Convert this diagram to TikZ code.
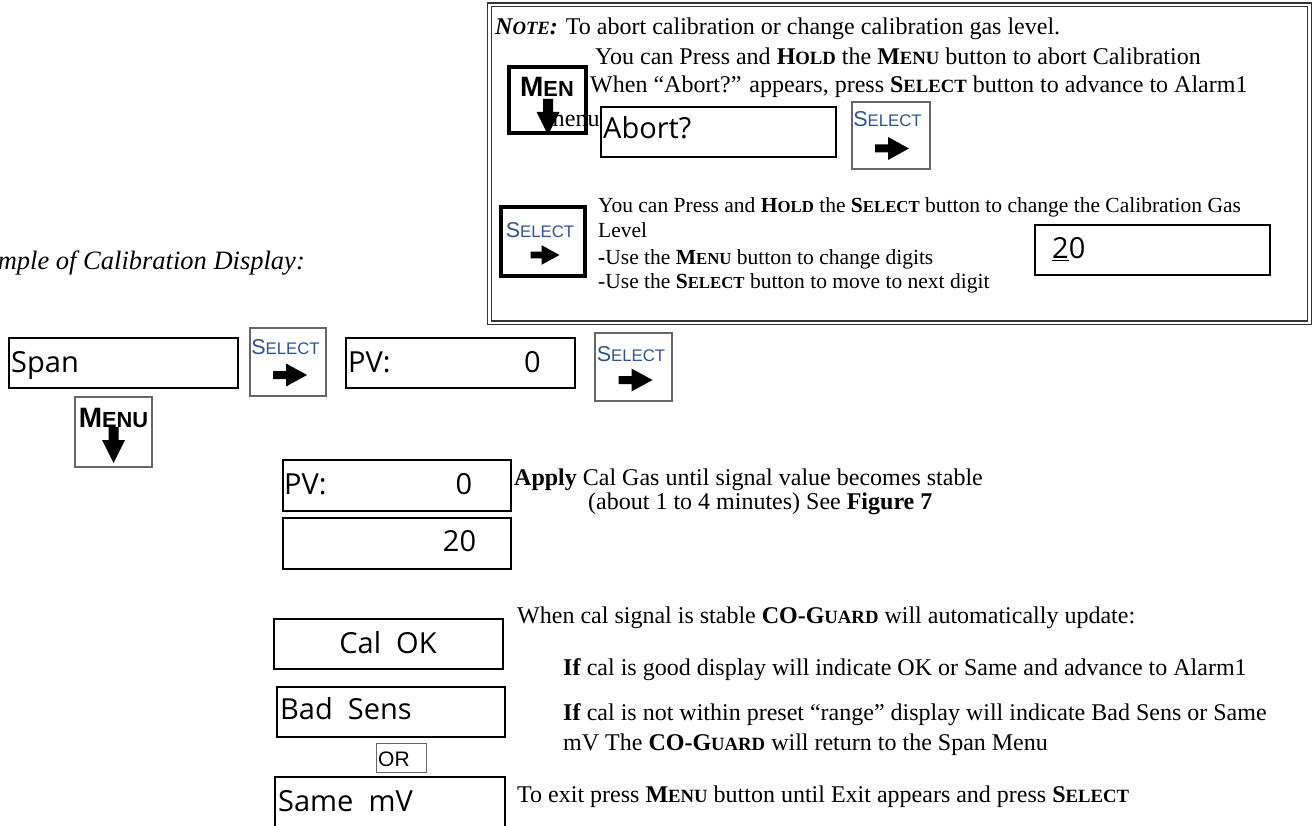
\documentclass[tikz,border=0pt]{standalone}
\usepackage{fontspec}
\setmainfont{Liberation Serif}
\newfontfamily\dispfont{Open Sans}
\newfontfamily\btnfont{Liberation Sans}
\definecolor{selblue}{RGB}{47,84,150}
\newcommand{\smallcap}[2]{#1\scalebox{0.78}{#2}}
\newcommand{\selarrow}[2]{\fill[shift={(#1)}, scale=#2] (-17,-4) -- (-4,-4) -- (-4,-11.5) -- (17,0) -- (-4,11.5) -- (-4,4) -- (-17,4) -- cycle;}
\newcommand{\menuarrow}[2]{\fill[shift={(#1)}, scale=#2] (-5,-18) -- (5,-18) -- (5,-5) -- (11.5,-5) -- (0,18) -- (-11.5,-5) -- (-5,-5) -- cycle;}

\begin{document}
\begin{tikzpicture}[x=1pt, y=-1pt,
    disp/.style={draw, line width=2pt, minimum width=229pt, minimum height=50pt, inner sep=0pt, fill=white},
    btn/.style={draw=black!60, line width=1.2pt, minimum width=77pt, minimum height=68pt, inner sep=0pt, fill=white},
    thickbtn/.style={draw, line width=4pt, inner sep=0pt},
    txt/.style={anchor=base west, inner sep=0pt, font=\fontsize{24}{28}\selectfont},
    smalltxt/.style={txt, font=\fontsize{21.5}{25}\selectfont},
    dtxt/.style={anchor=base west, inner sep=0pt, font=\dispfont\fontsize{29}{31}\selectfont},
    seltxt/.style={anchor=base, inner sep=0pt, text=selblue, font=\btnfont\fontsize{21.5}{24}\selectfont},
    menutxt/.style={anchor=base, inner sep=0pt, font=\btnfont\bfseries\fontsize{28}{30}\selectfont}]
    \useasboundingbox (0,0) rectangle (1312,826);

    \node[draw=black!80, line width=1.2pt, double, double distance=2.6pt, minimum width=820pt, minimum height=318pt, inner sep=0pt] (note) at (899.5,164) {};
    \node[txt] (note1) at (495,35) {\textbf{\textit{\smallcap{N}{OTE}:}} To abort calibration or change calibration gas level.};
    \node[txt] (note2) at (595,65) {You can Press and \textbf{\smallcap{H}{OLD}} the \textbf{\smallcap{M}{ENU}} button to abort Calibration};
    \node[txt] (note3) at (590,93) {When “Abort?” appears, press \textbf{\smallcap{S}{ELECT}} button to advance to Alarm1};
    \node[txt] (note4) at (546,127) {menu};
    \node[thickbtn, minimum width=77pt, minimum height=66pt] (men) at (547.5,100) {};
    \node[menutxt] (mentxt) at (547,97) {\smallcap{M}{EN}};
    \menuarrow{548,117}{1}
    \node[disp, minimum width=235pt] (abort) at (718.5,132) {};
    \node[dtxt] (aborttxt) at (603,139) {Abort?};
    \node[btn, minimum width=78pt, minimum height=67pt] (sel3) at (891,135.5) {};
    \node[seltxt] (sel3txt) at (887.5,127) {\smallcap{S}{ELECT}};
    \selarrow{892,148.5}{1}

    \node[thickbtn, fill=white, minimum width=84pt, minimum height=69pt] (sel4) at (543,241.5) {};
    \node[seltxt] (sel4txt) at (540,238) {\smallcap{S}{ELECT}};
    \selarrow{545,255}{0.85}
    \node[smalltxt] (low1) at (598,213) {You can Press and \textbf{\smallcap{H}{OLD}} the \textbf{\smallcap{S}{ELECT}} button to change the Calibration Gas};
    \node[smalltxt] (low2) at (598,238) {Level};
    \node[smalltxt] (low3) at (598,265) {\textbf{-}Use the \textbf{\smallcap{M}{ENU}} button to change digits};
    \node[smalltxt] (low4) at (598,289) {-Use the \textbf{\smallcap{S}{ELECT}} button to move to next digit};
    \node[disp, minimum width=235pt] (note20) at (1152.5,250) {};
    \node[dtxt] (note20txt) at (1052,259) {\underline{2}0};

    \node[txt, anchor=base east, font=\itshape\fontsize{26.5}{30}\selectfont] (caption) at (305,270) {mple of Calibration Display:};

    \node[disp] (span) at (123.5,363) {};
    \node[dtxt] (spantxt) at (11,372) {Span};
    \node[btn, minimum width=76pt] (sel1) at (288,362) {};
    \node[seltxt] (sel1txt) at (285.5,354) {\smallcap{S}{ELECT}};
    \selarrow{290,375}{1}
    \node[disp] (pv1) at (460.5,363) {};
    \node[dtxt] (pv1txt) at (348,372) {PV:};
    \node[dtxt, anchor=base] (pv1val) at (532.5,372) {0};
    \node[btn] (sel2) at (633.5,367) {};
    \node[seltxt] (sel2txt) at (631,361) {\smallcap{S}{ELECT}};
    \selarrow{635.5,380}{1}
    \node[btn, minimum height=70pt] (menu) at (113.5,432) {};
    \node[menutxt] (menutxt) at (113.5,427) {\smallcap{M}{ENU}};
    \menuarrow{113.5,445}{1}

    \node[disp, minimum width=228pt, minimum height=51pt] (pv2) at (397,485.5) {};
    \node[dtxt] (pv2txt) at (284,494) {PV:};
    \node[dtxt, anchor=base] (pv2val) at (464,494) {0};
    \node[disp, minimum width=228pt, minimum height=51pt] (val20) at (397,543.5) {};
    \node[dtxt, anchor=base] (val20txt) at (459.5,551) {20};
    \node[txt] (apply1) at (514,485) {\textbf{Apply} Cal Gas until signal value becomes stable};
    \node[txt] (apply2) at (588,509) {(about 1 to 4 minutes) See \textbf{Figure 7}};

    \node[disp] (calok) at (388.5,644) {};
    \node[dtxt, anchor=base] (caloktxt) at (388,653) {Cal\ \ OK};
    \node[disp, minimum width=228pt] (badsens) at (391,712) {};
    \node[dtxt] (badsenstxt) at (280,719) {Bad\ \ Sens};
    \node[draw=black!60, line width=1.2pt, minimum width=50pt, minimum height=29pt, inner sep=0pt] (orbox) at (401.5,758) {};
    \node[anchor=base west, inner sep=0pt, font=\btnfont\fontsize{21}{24}\selectfont] (ortxt) at (378,766) {OR};
    \node[disp, minimum width=230pt, minimum height=60pt] (samemv) at (390,807) {};
    \node[dtxt] (samemvtxt) at (278,811) {Same\ \ mV};
    \node[txt] (when) at (517,623) {When cal signal is stable \textbf{CO-G\scalebox{0.78}{UARD}} will automatically update:};
    \node[txt] (if1) at (563,675) {\textbf{If} cal is good display will indicate OK or Same and advance to Alarm1};
    \node[txt] (if2) at (563,720) {\textbf{If} cal is not within preset “range” display will indicate Bad Sens or Same};
    \node[txt] (if3) at (563,750) {mV The \textbf{CO-G\scalebox{0.78}{UARD}} will return to the Span Menu};
    \node[txt] (exit) at (517,802) {To exit press \textbf{\smallcap{M}{ENU}} button until Exit appears and press \textbf{\smallcap{S}{ELECT}}};
\end{tikzpicture}
\end{document}
